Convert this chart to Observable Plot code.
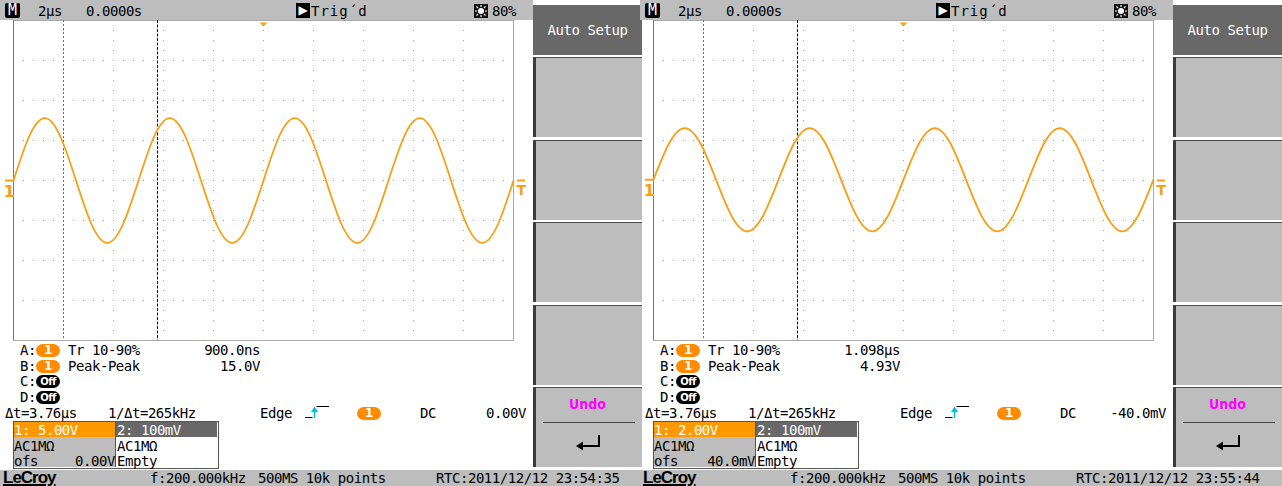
<!DOCTYPE html>
<html><head><meta charset="utf-8">
<script src="https://cdn.jsdelivr.net/npm/d3@7"></script>
<script src="https://cdn.jsdelivr.net/npm/@observablehq/plot@0.6"></script>
<style>
html,body{margin:0;padding:0;background:#fff;}
#root{position:relative;width:1282px;height:486px;overflow:hidden;background:#fff;font-family:"DejaVu Sans Mono",monospace;font-size:14px;letter-spacing:-0.45px;color:#000;}
.abs{position:absolute;white-space:pre;line-height:16px;}
.screen{position:absolute;top:0;width:642px;height:470px;}
.pill{position:absolute;width:24px;height:13px;border-radius:7px;color:#fff;font-family:"DejaVu Sans",sans-serif;font-weight:bold;text-align:center;line-height:13px;}
</style></head><body><div id="root"></div>
<script>
// ---------- data ----------
const sampleTimesUs = [-10,-9.375,-8.75,-8.125,-7.5,-6.875,-6.25,-5.625,-5,-4.375,-3.75,-3.125,-2.5,-1.875,-1.25,-0.625,0,0.625,1.25,1.875,2.5,3.125,3.75,4.375,5,5.625,6.25,6.875,7.5,8.125,8.75,9.375,10];
const screen1Volts = [0,5.5,7.8,5.5,0,-5.5,-7.8,-5.5,0,5.5,7.8,5.5,0,-5.5,-7.8,-5.5,0,5.5,7.8,5.5,0,-5.5,-7.8,-5.5,0,5.5,7.8,5.5,0,-5.5,-7.8,-5.5,0];
const screen2Volts = [0,1.82,2.58,1.82,0,-1.82,-2.58,-1.82,0,1.82,2.58,1.82,0,-1.82,-2.58,-1.82,0,1.82,2.58,1.82,0,-1.82,-2.58,-1.82,0,1.82,2.58,1.82,0,-1.82,-2.58,-1.82,0];
const traceVolts = [screen1Volts, screen2Volts];
const voltsPerDiv = [5, 2];
const offsetVolts = [0, 0.04];
const triggerVolts = [0, -0.04];
const triggerTimeUs = [0];
const cursorTimesUs = [-8, -4.24];
const gridTimesUs = [-8,-6,-4,-2,0,2,4,6,8];
const gridDivs = [-3,-2,-1,0,1,2,3];
const timeDomainUs = [-10, 10];
const divsHalf = 4;

const timebaseLabel = "2µs";
const delayLabel = "0.0000s";
const trigStateLabel = "Trig´d";
const brightnessLabel = "80%";
const ch1ScaleLabels = ["1: 5.00V", "1: 2.00V"];
const ch2ScaleLabel = "2: 100mV";
const ch1OffsetLabels = ["0.00V", "40.0mV"];
const couplingLabel = "AC1MΩ";
const riseTimeLabels = ["900.0ns", "1.098µs"];
const peakPeakLabels = ["15.0V", "4.93V"];
const measureNames = ["Tr 10-90%", "Peak-Peak"];
const triggerLabels = ["0.00V", "-40.0mV"];
const rtcLabels = ["RTC:2011/12/12 23:54:35", "RTC:2011/12/12 23:55:44"];
const deltaTLabel = "Δt=3.76µs";
const invDeltaTLabel = "1/Δt=265kHz";
const freqLabel = "f:200.000kHz";
const acqLabel = "500MS 10k points";
const screenOffsetsPx = [0, 640];

const ORANGE = "#fa9e14";
const PILL = "#ff8c00";
const GRAY = "#bdbdbd";
const DARK = "#686868";

const root = document.getElementById("root");
function el(parent, css, text, cls) {
  const d = document.createElement("div");
  d.className = cls || "abs";
  Object.assign(d.style, css);
  if (text != null) d.textContent = text;
  parent.appendChild(d);
  return d;
}
function txt(parent, x, cy, s, extra) { return el(parent, Object.assign({left: x + "px", top: (cy - 8) + "px"}, extra || {}), s); }
function txtR(parent, xr, cy, s, extra) { return el(parent, Object.assign({left: xr + "px", top: (cy - 8) + "px", transform: "translateX(-100%)"}, extra || {}), s); }

// status bar
el(root, {left: "0px", top: "470px", width: "1282px", height: "16px", background: GRAY});

function scope(i) {
  const vpd = voltsPerDiv[i], ofs = offsetVolts[i];
  const data = sampleTimesUs.map((t, k) => ({t, v: traceVolts[i][k] + ofs}));
  const topV = divsHalf * vpd, botV = -divsHalf * vpd;
  const dashSym = {draw(c) { c.moveTo(-4, 0); c.lineTo(4, 0); }};
  const triSym = {draw(c) { c.moveTo(-4, 0); c.lineTo(4, 0); c.lineTo(0, 4); c.closePath(); }};
  return Plot.plot({
    width: 535, height: 342,
    marginLeft: 13, marginRight: 22, marginTop: 20, marginBottom: 2,
    x: {domain: timeDomainUs, axis: null},
    y: {domain: [botV, topV], axis: null},
    style: {background: "transparent"},
    marks: [
      Plot.ruleX(gridTimesUs, {stroke: "#a2a2a2", strokeDasharray: "1,9"}),
      Plot.ruleY(gridDivs.map(d => d * vpd), {stroke: "#a2a2a2", strokeDasharray: "1,9"}),
      Plot.frame({stroke: "#ababab"}),
      Plot.ruleX([timeDomainUs[0]], {stroke: "#7a7a7a"}),
      Plot.ruleX([cursorTimesUs[0]], {stroke: "#6f6f6f", strokeDasharray: "2,2"}),
      Plot.ruleX([cursorTimesUs[1]], {stroke: "#111", strokeDasharray: "3,1.5"}),
      Plot.line(data, {x: "t", y: "v", curve: "natural", stroke: ORANGE, strokeWidth: 1.8}),
      Plot.dot(triggerTimeUs, {x: d => d, y: () => topV, symbol: triSym, fill: ORANGE, stroke: "none", dy: 2}),
      Plot.dot([ofs], {x: () => timeDomainUs[0], y: d => d, symbol: dashSym, fill: "none", stroke: ORANGE, strokeWidth: 2, dx: -4.5}),
      Plot.text(["1"], {x: () => timeDomainUs[0], y: () => ofs, text: d => d, dx: -4.5, dy: 11, fill: ORANGE, fontSize: 16, fontWeight: "bold", fontFamily: "DejaVu Sans"}),
      Plot.dot([triggerVolts[i] + ofs], {x: () => timeDomainUs[1], y: d => d, symbol: dashSym, fill: "none", stroke: ORANGE, strokeWidth: 2, dx: 7.5}),
      Plot.text(["T"], {x: () => timeDomainUs[1], y: () => triggerVolts[i] + ofs, text: d => d, dx: 7.5, dy: 10, fill: ORANGE, fontSize: 14, fontWeight: "bold", fontFamily: "DejaVu Sans"})
    ]
  });
}

screenOffsetsPx.forEach((ox, i) => {
  const s = el(root, {left: ox + "px"}, null, "screen");
  const svg = scope(i);
  svg.style.position = "absolute";
  svg.style.left = "0px";
  svg.style.top = "0px";
  s.appendChild(svg);

  // top bar
  el(s, {left: "0px", top: "0px", width: "533px", height: "20px", background: GRAY});
  el(s, {left: "5px", top: "3px", width: "15px", height: "15px", background: "#000", color: "#fff", borderRadius: "2px", textAlign: "center", lineHeight: "15px", fontSize: "15px", letterSpacing: "0px"}, "M");
  txt(s, 38, 11, timebaseLabel);
  txt(s, 86, 11, delayLabel);
  el(s, {left: "296px", top: "3px", width: "14px", height: "15px", background: "#000", color: "#fff", textAlign: "center", lineHeight: "15px", fontSize: "12px", fontFamily: "DejaVu Sans"}, "▶");
  txt(s, 311, 11, trigStateLabel, {letterSpacing: "1px"});
  const bi = el(s, {left: "474px", top: "4px", width: "14px", height: "14px"});
  bi.innerHTML = '<svg width="14" height="14"><rect width="14" height="14" fill="#111"/><circle cx="7" cy="7" r="3" fill="#fff"/><g stroke="#fff" stroke-width="1.2"><line x1="7" y1="1" x2="7" y2="3"/><line x1="7" y1="11" x2="7" y2="13"/><line x1="1" y1="7" x2="3" y2="7"/><line x1="11" y1="7" x2="13" y2="7"/><line x1="2.5" y1="2.5" x2="4" y2="4"/><line x1="10" y1="10" x2="11.5" y2="11.5"/><line x1="2.5" y1="11.5" x2="4" y2="10"/><line x1="10" y1="4" x2="11.5" y2="2.5"/></g></svg>';
  txt(s, 492, 11, brightnessLabel);

  // sidebar
  el(s, {left: "533px", top: "5px", width: "109px", height: "50px", background: DARK});
  txt(s, 587.5, 30, "Auto Setup", {color: "#fff", transform: "translateX(-50%)"});
  [57, 140, 222, 305, 387].forEach(y => {
    el(s, {left: "533px", top: y + "px", width: "106px", height: "79px", background: GRAY, borderLeft: "3px solid #3c3c3c", borderTop: "1px solid #4a4a4a"});
  });
  txt(s, 587.5, 404, "Undo", {color: "#ff00ff", transform: "translateX(-50%)", fontFamily: "DejaVu Sans Condensed, DejaVu Sans", fontWeight: "bold", letterSpacing: "0px"});
  el(s, {left: "543px", top: "422px", width: "92px", height: "1px", background: "#444"});
  const ar = el(s, {left: "575px", top: "434px", width: "28px", height: "18px"});
  ar.innerHTML = '<svg width="28" height="18"><path d="M24 1V12H7" stroke="#000" stroke-width="2" fill="none"/><path d="M1 12L8 7.5V16.5Z" fill="#000"/></svg>';

  // measurements
  const rows = [350, 366, 381, 397];
  ["A:", "B:", "C:", "D:"].forEach((l, k) => txt(s, 20, rows[k], l));
  [0, 1].forEach(k => {
    el(s, {left: "36px", top: (rows[k] - 6.5) + "px", background: PILL, fontSize: "12px"}, "1", "pill");
    txt(s, 68, rows[k], measureNames[k]);
  });
  [2, 3].forEach(k => el(s, {left: "36px", top: (rows[k] - 6.5) + "px", background: "#000", fontSize: "10px", letterSpacing: "-0.5px"}, "Off", "pill"));
  txtR(s, 260, rows[0], riseTimeLabels[i]);
  txtR(s, 260, rows[1], peakPeakLabels[i]);

  // cursor / trigger row
  txt(s, 5, 413, deltaTLabel);
  txt(s, 108, 413, invDeltaTLabel);
  txt(s, 260, 413, "Edge");
  const ei = el(s, {left: "304px", top: "405px", width: "26px", height: "14px"});
  ei.innerHTML = '<svg width="26" height="14"><path d="M1 12.5H8.5" stroke="#000" stroke-width="1"/><path d="M12.5 1.5H25" stroke="#000" stroke-width="1"/><path d="M10.5 13V4" stroke="#00bfe0" stroke-width="1.5"/><path d="M7 7L10.5 1.5L14 7Z" fill="#00bfe0"/></svg>';
  el(s, {left: "357px", top: "406.5px", background: PILL, fontSize: "12px"}, "1", "pill");
  txt(s, 420, 413, "DC");
  txtR(s, 526, 413, triggerLabels[i]);

  // channel box
  el(s, {left: "13px", top: "421px", width: "204px", height: "46px", border: "1px solid #555", background: "#fff"});
  el(s, {left: "14px", top: "422px", width: "101px", height: "15px", background: "#ff9900"});
  el(s, {left: "115px", top: "422px", width: "102px", height: "15px", background: DARK});
  el(s, {left: "14px", top: "437px", width: "101px", height: "30px", background: GRAY});
  el(s, {left: "115px", top: "422px", width: "1px", height: "45px", background: "#555"});
  txt(s, 14, 430, ch1ScaleLabels[i], {color: "#fff"});
  txt(s, 117, 430, ch2ScaleLabel, {color: "#fff"});
  txt(s, 14, 446, couplingLabel);
  txt(s, 14, 461, "ofs");
  txtR(s, 115, 461, ch1OffsetLabels[i]);
  txt(s, 117, 446, couplingLabel);
  txt(s, 117, 461, "Empty");

  // status bar texts
  el(root, {left: (ox + 3) + "px", top: "469px", fontFamily: "Liberation Sans, Arial, sans-serif", fontWeight: "bold", fontSize: "17px", letterSpacing: "-1px", lineHeight: "17px", textDecoration: "underline", textDecorationThickness: "2px"}, "LeCroy");
  txt(root, ox + 150, 478, freqLabel);
  txt(root, ox + 258, 478, acqLabel);
  txt(root, ox + 436, 478, rtcLabels[i]);
});
</script></body></html>
